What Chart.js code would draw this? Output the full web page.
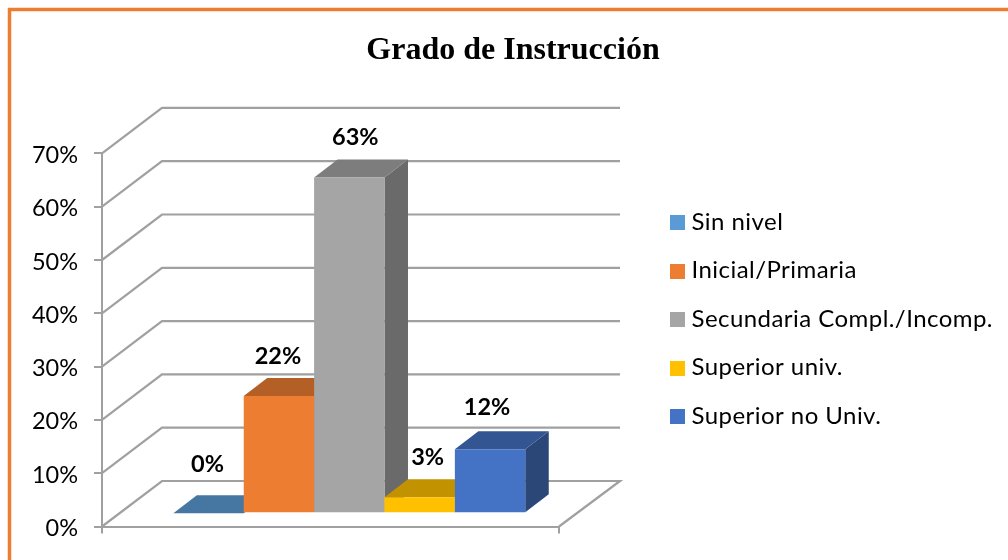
<!DOCTYPE html>
<html><head><meta charset="utf-8">
<style>html,body{margin:0;padding:0;background:#fff}#w{width:1008px;height:560px;position:relative}canvas{display:block}</style>
<script src="https://cdn.jsdelivr.net/npm/chart.js@4"></script>
</head><body><div id="w"><canvas id="c" width="1008" height="560"></canvas></div>
<script>
const titleText = "Grado de Instrucción";
const categories = ["Grado de Instrucción"];
const seriesNames = ["Sin nivel","Inicial/Primaria","Secundaria Compl./Incomp.","Superior univ.","Superior no Univ."];
const seriesValues = [0,22,63,3,12];
const yTicks = [0,10,20,30,40,50,60,70];
const frontColors = ["#5B9BD5","#ED7D31","#A5A5A5","#FFC000","#4472C4"];
const topColors = ["#4676A2","#B45F25","#7D7D7D","#C29200","#335693"];
const sideColors = ["#3B6489","#A0541F","#6A6A6A","#A67C00","#2A4778"];
const labelNudges = [[-1,-49],[-1,-40],[6,-40],[8,-40],[-3,-42]];
const WALL = {dx:60, dy:-45.5};
const BAR = {dx:18.8, dy:-13.2, depthX:23.5, depthY:-18};
const GRID = "#A0A0A0";
const TICK_FONT = "Lato";

const scene = {
  id:"scene",
  afterLayout(chart){
    const t = chart.titleBlock;
    t.left = 0; t.right = 1026; t.width = 1026; t.top = 32; t.bottom = t.top + t.height;
  },
  beforeDraw(chart){
    const c = chart.ctx;
    c.save();
    c.fillStyle="#fff"; c.fillRect(0,0,chart.width,chart.height);
    c.strokeStyle="#ED7D31"; c.lineWidth=3.5;
    c.beginPath(); c.moveTo(9.5,chart.height+5); c.lineTo(9.5,9.5); c.lineTo(chart.width+5,9.5); c.stroke();
    c.restore();
  },
  beforeDatasetsDraw(chart){
    const c = chart.ctx, y = chart.scales.y, a = chart.chartArea;
    c.save();
    c.strokeStyle=GRID; c.lineWidth=2.2; c.lineJoin="miter";
    yTicks.forEach(v=>{
      const p = y.getPixelForValue(v);
      c.beginPath(); c.moveTo(a.left,p); c.lineTo(a.left+WALL.dx,p+WALL.dy);
      c.lineTo(a.right+WALL.dx+1,p+WALL.dy);
      if(v===0){c.lineTo(a.right,p);}
      c.stroke();
    });
    c.restore();
  },
  beforeDatasetDraw(){ return false; },
  afterDatasetsDraw(chart){
    const c = chart.ctx;
    seriesValues.forEach((v,i)=>{
      const el = chart.getDatasetMeta(i).data[0];
      const {x,y,base,width} = el.getProps(["x","y","base","width"],true);
      const l = x-width/2, r = x+width/2;
      c.save();
      c.translate(BAR.dx,BAR.dy);
      c.fillStyle=sideColors[i];
      c.beginPath(); c.moveTo(r,y); c.lineTo(r+BAR.depthX,y+BAR.depthY); c.lineTo(r+BAR.depthX,base+BAR.depthY); c.lineTo(r,base); c.closePath(); c.fill();
      c.fillStyle=topColors[i];
      c.beginPath(); c.moveTo(l,y); c.lineTo(l+BAR.depthX,y+BAR.depthY); c.lineTo(r+BAR.depthX,y+BAR.depthY); c.lineTo(r,y); c.closePath(); c.fill();
      el.draw(c);
      c.restore();
    });
    c.save();
    c.font="bold 23.5px "+TICK_FONT; c.fillStyle="#000"; c.textAlign="center"; c.textBaseline="middle";
    seriesValues.forEach((v,i)=>{
      const el = chart.getDatasetMeta(i).data[0];
      const {x,y} = el.getProps(["x","y"],true);
      c.fillText(v+"%", x+BAR.dx+labelNudges[i][0], y+BAR.dy+labelNudges[i][1]);
    });
    c.restore();
  },
  afterDraw(chart){
    const c = chart.ctx, x0=670, y0=222, step=48.5;
    c.save();
    c.font="24px "+TICK_FONT; c.textBaseline="middle"; c.textAlign="left"; c.fillStyle="#000";
    c.letterSpacing="0.45px";
    seriesNames.forEach((n,i)=>{
      const y=y0+i*step;
      c.fillStyle=frontColors[i]; c.fillRect(x0,Math.round(y-7),15,15);
      c.fillStyle="#000"; c.fillText(n,x0+21.5,y);
    });
    c.restore();
  }
};

new Chart(document.getElementById("c"),{
  type:"bar",
  data:{labels:categories,datasets:seriesNames.map((n,i)=>({label:n,data:[seriesValues[i]],backgroundColor:frontColors[i],borderWidth:0}))},
  options:{
    responsive:false,animation:false,
    layout:{padding:{left:0,right:449,top:115,bottom:0}},
    datasets:{bar:{categoryPercentage:0.77,barPercentage:1}},
    plugins:{
      legend:{display:false},tooltip:{enabled:false},
      title:{display:true,text:titleText,color:"#000",font:{family:"Liberation Serif",size:32,weight:"bold"},padding:0}
    },
    scales:{
      x:{offset:true,afterFit(a){a.height=33.5;},
        ticks:{display:false},
        border:{display:true,color:GRID,width:2},
        grid:{drawOnChartArea:false,drawTicks:true,tickLength:7,color:GRID,lineWidth:2}},
      y:{min:0,max:70,afterFit(a){a.width=102;},
        afterBuildTicks(a){a.ticks=yTicks.map(v=>({value:v}));},
        ticks:{padding:16,labelOffset:2,color:"#000",font:{family:TICK_FONT,size:23.5},callback:v=>v+"%"},
        border:{display:true,color:GRID,width:2},
        grid:{drawOnChartArea:false,drawTicks:true,tickLength:8,color:GRID,lineWidth:2}}
    }
  },
  plugins:[scene]
});
</script></body></html>
